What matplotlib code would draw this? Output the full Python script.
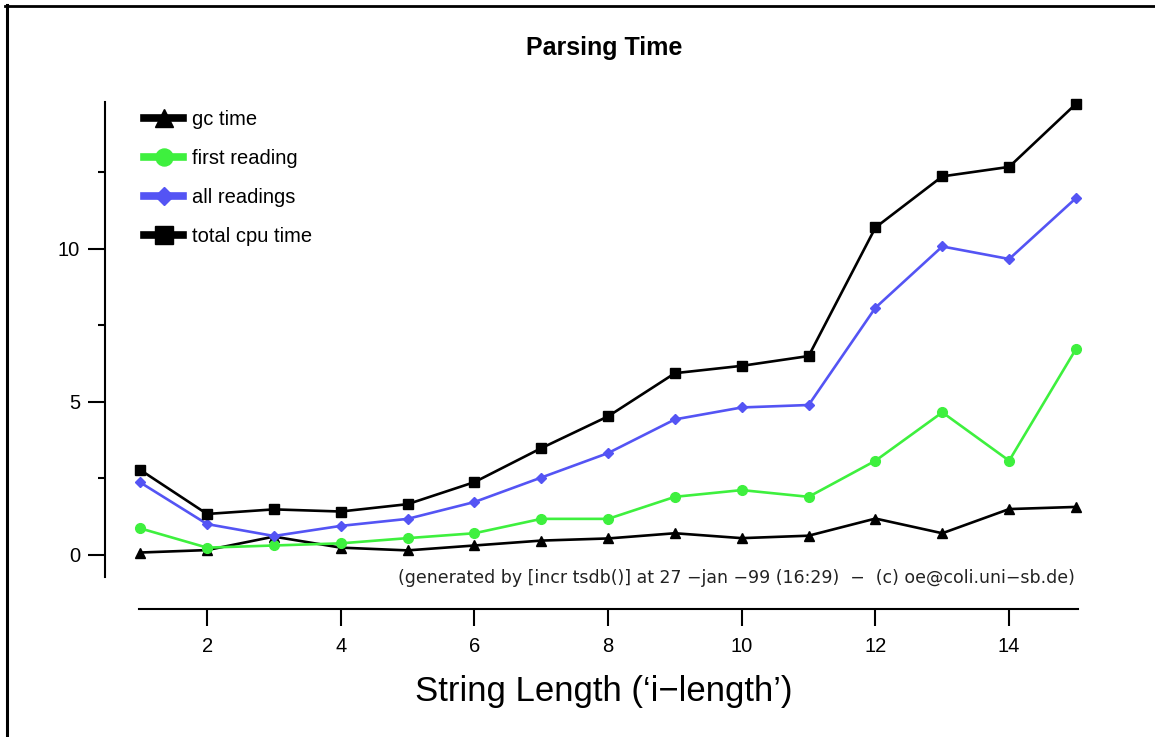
import matplotlib
matplotlib.use("Agg")
import matplotlib.pyplot as plt
from matplotlib.lines import Line2D

plt.rcParams['font.family'] = ['Liberation Sans', 'DejaVu Sans']

# values
lengths = list(range(1, 16))
gc_time = [0.08, 0.16, 0.60, 0.24, 0.15, 0.31, 0.47, 0.54, 0.71, 0.55, 0.63, 1.19, 0.71, 1.50, 1.57]
first_reading = [0.87, 0.24, 0.31, 0.38, 0.55, 0.71, 1.18, 1.18, 1.90, 2.12, 1.90, 3.08, 4.66, 3.08, 6.73]
all_readings = [2.37, 1.01, 0.62, 0.95, 1.18, 1.73, 2.53, 3.33, 4.43, 4.82, 4.90, 8.08, 10.08, 9.67, 11.66]
total_cpu = [2.78, 1.34, 1.49, 1.42, 1.66, 2.38, 3.49, 4.53, 5.94, 6.18, 6.50, 10.70, 12.37, 12.68, 14.74]

series_names = ["gc time", "first reading", "all readings", "total cpu time"]
x_ticks = [2, 4, 6, 8, 10, 12, 14]
y_ticks = [0, 5, 10]
y_minor = [2.5, 7.5, 12.5]

GREEN = "#3ef03e"
BLUE = "#5454f4"

W, H = 1155, 737
fig = plt.figure(figsize=(W / 100, H / 100), dpi=100)

# axes placed in pixel terms of the original picture
left, right, top, bottom = 105, 1078, 102, 609
ax = fig.add_axes([left / W, 1 - bottom / H, (right - left) / W, (bottom - top) / H])
ax.set_xlim(0.473, 15.03)
ax.set_ylim(-1.765, 14.80)

styles = [
    (gc_time, "black", "^", 7.5),
    (first_reading, GREEN, "o", 7),
    (all_readings, BLUE, "D", 5.5),
    (total_cpu, "black", "s", 7.5),
]
for vals, col, mk, ms in styles:
    ax.plot(lengths, vals, color=col, lw=1.9, marker=mk, markersize=ms,
            markerfacecolor=col, markeredgecolor=col, clip_on=False)

for s in ["top", "right"]:
    ax.spines[s].set_visible(False)
ax.spines["left"].set_linewidth(1.5)
ax.spines["bottom"].set_linewidth(1.5)
ax.spines["left"].set_bounds(-0.72, 14.8)
ax.spines["bottom"].set_bounds(0.98, 15.03)

ax.set_xticks(x_ticks)
ax.set_yticks(y_ticks)
ax.set_yticks(y_minor, minor=True)
ax.tick_params(axis="both", which="major", direction="out", length=12, width=1.5,
               labelsize=14.5, colors="black")
ax.tick_params(axis="y", which="major", pad=6)
ax.tick_params(axis="x", which="major", pad=8)
ax.tick_params(axis="y", which="minor", direction="out", length=5, width=1.5)

# legend with bigger proxy handles, as in the original
handles = []
for (vals, col, mk, ms), name in zip(styles, series_names):
    handles.append(Line2D([], [], color=col, lw=5.5, marker=mk, markersize=ms * 1.75,
                          markerfacecolor=col, markeredgecolor=col, label=name))
ax.legend(handles=handles, loc="upper left", bbox_to_anchor=(144 / W, 1 - 110 / H),
          bbox_transform=fig.transFigure, frameon=False, fontsize=14.5,
          handlelength=1.95, handletextpad=0.45, labelspacing=0.99,
          borderpad=0, borderaxespad=0)

fig.text(604 / W, 1 - 48 / H, "Parsing Time", ha="center", va="center",
         fontsize=18, fontweight="bold")
fig.text(604 / W, 1 - 692 / H, "String Length (\u2018i\u2212length\u2019)", ha="center",
         va="center", fontsize=25)
fig.text(1075 / W, 1 - 578 / H,
         "(generated by [incr tsdb()] at 27 \u2212jan \u221299 (16:29)  \u2212  (c) oe@coli.uni\u2212sb.de)",
         ha="right", va="center", fontsize=12.5, family="DejaVu Sans", color="#222222")

# page frame: top and left edge only
fig.add_artist(Line2D([5 / W, 1], [1 - 6 / H, 1 - 6 / H], transform=fig.transFigure,
                      color="black", lw=2))
fig.add_artist(Line2D([6.5 / W, 6.5 / W], [0, 1 - 5 / H], transform=fig.transFigure,
                      color="black", lw=2.2))

fig.savefig("out.png", dpi=100)
